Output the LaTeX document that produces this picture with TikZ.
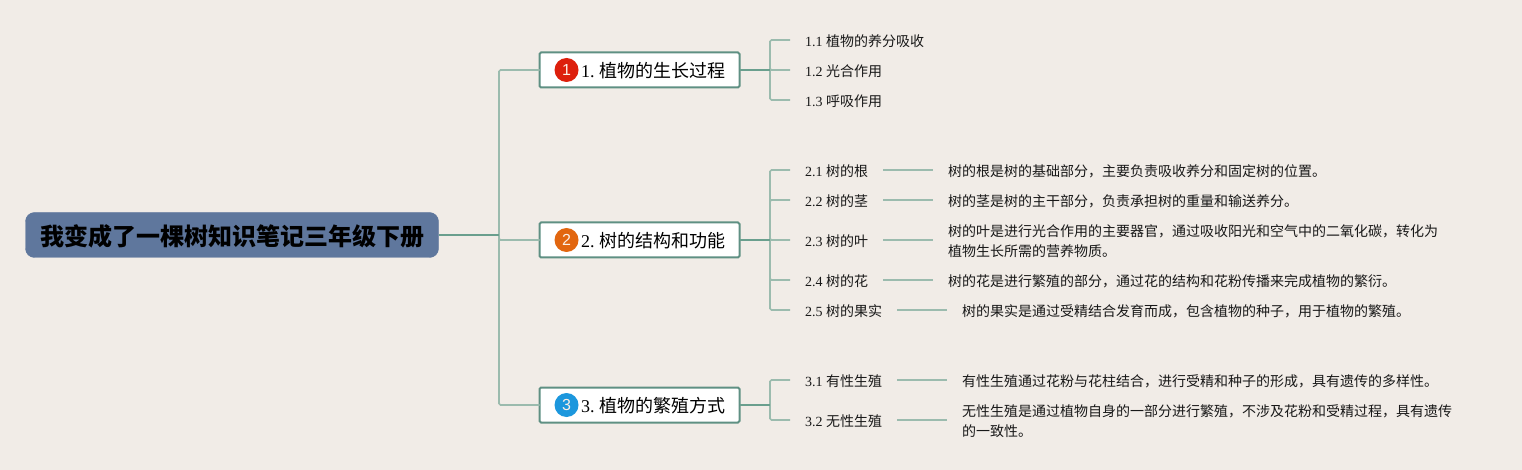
\documentclass[tikz,border=0pt]{standalone}
\usepackage{fontspec}
\setmainfont{Liberation Serif}
\newfontfamily\cjkfont{Noto Sans CJK SC}
\newfontfamily\badgefont{Liberation Sans}
\newcommand{\C}[1]{{\cjkfont #1}}
\newcommand{\Dn}[2]{\raisebox{-#1pt}[\height][\depth]{#2}}
\definecolor{bgc}{HTML}{F1ECE7}
\definecolor{rootc}{HTML}{5F779D}
\definecolor{mainc}{HTML}{5F9083}
\definecolor{linedark}{HTML}{6A9F8E}
\definecolor{linelight}{HTML}{9BBBAE}
\definecolor{txt}{HTML}{181818}
\definecolor{bredc}{HTML}{DD1F0C}
\definecolor{borangec}{HTML}{E2660F}
\definecolor{bbluec}{HTML}{1C97DD}
\definecolor{bnum}{HTML}{FBEFE6}
\tikzset{
  rootbox/.style={draw=rootc,fill=rootc,rounded corners=9pt,minimum width=413pt,minimum height=45pt,inner sep=0pt,outer sep=0pt,text=black,font=\fontsize{24}{28}\selectfont\bfseries},
  mainbox/.style={draw=mainc,fill=white,line width=2pt,rounded corners=1.5pt,minimum width=200pt,minimum height=35pt,inner xsep=0pt,inner ysep=0pt,outer sep=0pt,text=black,font=\fontsize{18}{22}\selectfont,anchor=west},
  badge/.style={circle,minimum size=24pt,inner sep=0pt,text=bnum,font=\badgefont\fontsize{16}{20}\selectfont},
  subnode/.style={anchor=west,inner xsep=15pt,inner ysep=2pt,outer sep=0pt,text=txt,font=\fontsize{14}{20}\selectfont},
  detail/.style={anchor=west,inner xsep=15pt,inner ysep=2pt,outer sep=0pt,align=left,text=txt,font=\fontsize{14}{20}\selectfont},
  trunk/.style={draw=linelight,line width=1.6pt,rounded corners=1.5pt},
  stem/.style={draw=linedark,line width=1.8pt},
}
\begin{document}
\begin{tikzpicture}[x=1pt,y=-1pt]
\useasboundingbox[fill=bgc] (0,0) rectangle (1522,470);
% root
\node[rootbox] (root) at (232,235) {\Dn{1.5}{\C{我变成了一棵树知识笔记三年级下册}}};
% main topics
\node[mainbox] (m1) at (539.5,70) {\Dn{1}{\hspace*{27pt}1.\hspace{4.5pt}\C{植物的生长过程}}};
\node[mainbox] (m2) at (539.5,240) {\Dn{1}{\hspace*{27pt}2.\hspace{4.5pt}\C{树的结构和功能}}};
\node[mainbox] (m3) at (539.5,405) {\Dn{1}{\hspace*{27pt}3.\hspace{4.5pt}\C{植物的繁殖方式}}};
\node[badge,fill=bredc] (b1) at (566.5,70) {1};
\node[badge,fill=borangec] (b2) at (566.5,240) {2};
\node[badge,fill=bbluec] (b3) at (566.5,405) {3};
% sub topics
\node[subnode] (s11) at (790,40) {\Dn{1}{1.1 \C{植物的养分吸收}}};
\node[subnode] (s12) at (790,70) {\Dn{1}{1.2 \C{光合作用}}};
\node[subnode] (s13) at (790,100) {\Dn{1}{1.3 \C{呼吸作用}}};
\node[subnode] (s21) at (790,170) {\Dn{1}{2.1 \C{树的根}}};
\node[subnode] (s22) at (790,200) {\Dn{1}{2.2 \C{树的茎}}};
\node[subnode] (s23) at (790,240) {\Dn{1}{2.3 \C{树的叶}}};
\node[subnode] (s24) at (790,280) {\Dn{1}{2.4 \C{树的花}}};
\node[subnode] (s25) at (790,310) {\Dn{1}{2.5 \C{树的果实}}};
\node[subnode] (s31) at (790,380) {\Dn{1}{3.1 \C{有性生殖}}};
\node[subnode] (s32) at (790,420) {\Dn{1}{3.2 \C{无性生殖}}};
% details
\node[detail] (d21) at (933,171) {\C{树的根是树的基础部分，主要负责吸收养分和固定树的位置。}};
\node[detail] (d22) at (933,201) {\C{树的茎是树的主干部分，负责承担树的重量和输送养分。}};
\node[detail] (d23) at (933,241) {\C{树的叶是进行光合作用的主要器官，通过吸收阳光和空气中的二氧化碳，转化为}\\\C{植物生长所需的营养物质。}};
\node[detail] (d24) at (933,281) {\C{树的花是进行繁殖的部分，通过花的结构和花粉传播来完成植物的繁衍。}};
\node[detail] (d25) at (947,311) {\C{树的果实是通过受精结合发育而成，包含植物的种子，用于植物的繁殖。}};
\node[detail] (d31) at (947,381) {\C{有性生殖通过花粉与花柱结合，进行受精和种子的形成，具有遗传的多样性。}};
\node[detail] (d32) at (947,421) {\C{无性生殖是通过植物自身的一部分进行繁殖，不涉及花粉和受精过程，具有遗传}\\\C{的一致性。}};
% junctions
\coordinate (j0) at (499,235);
\coordinate (j1) at (770,70);
\coordinate (j2) at (770,240);
\coordinate (j3) at (770,405);
% connectors
\draw[trunk] (j0) |- (m1.west);
\draw[trunk] (j0) |- (m2.west);
\draw[trunk] (j0) |- (m3.west);
\foreach \n in {s11,s12,s13} \draw[trunk] (j1) |- (\n.west);
\foreach \n in {s21,s22,s23,s24,s25} \draw[trunk] (j2) |- (\n.west);
\foreach \n in {s31,s32} \draw[trunk] (j3) |- (\n.west);
\draw[trunk] (s21.east) -- (s21.east -| d21.west);
\draw[trunk] (s22.east) -- (s22.east -| d22.west);
\draw[trunk] (s23.east) -- (s23.east -| d23.west);
\draw[trunk] (s24.east) -- (s24.east -| d24.west);
\draw[trunk] (s25.east) -- (s25.east -| d25.west);
\draw[trunk] (s31.east) -- (s31.east -| d31.west);
\draw[trunk] (s32.east) -- (s32.east -| d32.west);
\draw[stem] (root.east) -- (j0);
\draw[stem] (m1.east) -- (j1);
\draw[stem] (m2.east) -- (j2);
\draw[stem] (m3.east) -- (j3);
\end{tikzpicture}
\end{document}
